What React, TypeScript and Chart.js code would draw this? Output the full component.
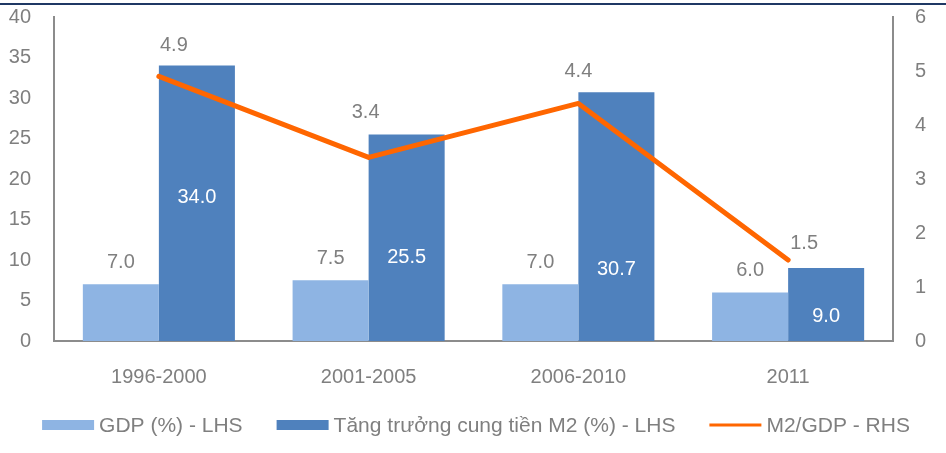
import React, { useEffect, useRef } from "react";
import { Chart, registerables } from "chart.js";

Chart.register(...registerables);

// ---- data ----
const categories = ["1996-2000", "2001-2005", "2006-2010", "2011"];
const gdp = [7.0, 7.5, 7.0, 6.0];
const m2Growth = [34.0, 25.5, 30.7, 9.0];
const m2ToGdp = [4.9, 3.4, 4.4, 1.5];
const seriesNames = [
  "GDP (%) - LHS",
  "Tăng trưởng cung tiền M2 (%) - LHS",
  "M2/GDP - RHS",
];
const leftAxis = { min: 0, max: 40, step: 5 };
const rightAxis = { min: 0, max: 6, step: 1 };

// ---- styles ----
const FONT = "'Liberation Sans', Arial, Helvetica, sans-serif";
const GRAY = "#7F7F7F";
const AXIS = "#8C8C8C";
const LIGHT_BLUE = "#8EB4E3";
const DARK_BLUE = "#4F81BD";
const ORANGE = "#FF6600";

// label placement (layout)
const M2_LABEL_AT = [17.8, 10.4, 8.9, 3.1]; // in left-axis units
const LINE_LABEL_OFFSETS = [
  [15, -31],
  [-3, -45],
  [0, -32],
  [16, -17],
];

const labelPlugin = {
  id: "valueLabels",
  afterDatasetsDraw(chart: any) {
    const ctx = chart.ctx;
    ctx.save();
    ctx.font = `20px ${FONT}`;
    ctx.textAlign = "center";
    ctx.textBaseline = "middle";
    const yL = chart.scales.y;
    chart.getDatasetMeta(0).data.forEach((el: any, i: number) => {
      ctx.fillStyle = GRAY;
      ctx.fillText(gdp[i].toFixed(1), el.x, el.y - 22);
    });
    chart.getDatasetMeta(1).data.forEach((el: any, i: number) => {
      ctx.fillStyle = "#FFFFFF";
      ctx.fillText(m2Growth[i].toFixed(1), el.x, yL.getPixelForValue(M2_LABEL_AT[i]) + 1);
    });
    chart.getDatasetMeta(2).data.forEach((el: any, i: number) => {
      ctx.fillStyle = GRAY;
      ctx.fillText(
        m2ToGdp[i].toFixed(1),
        el.x + LINE_LABEL_OFFSETS[i][0],
        el.y + LINE_LABEL_OFFSETS[i][1]
      );
    });
    ctx.restore();
  },
};

const topLinePlugin = {
  id: "topLine",
  beforeDraw(chart: any) {
    const ctx = chart.ctx;
    ctx.save();
    ctx.fillStyle = "#1F3864";
    ctx.fillRect(0, 3, chart.width, 2);
    ctx.restore();
  },
};

const legendPlugin = {
  id: "customLegend",
  afterDraw(chart: any) {
    const ctx = chart.ctx;
    ctx.save();
    ctx.font = `21px ${FONT}`;
    ctx.textBaseline = "middle";
    ctx.textAlign = "left";
    const boxW = 52;
    const gapText = 5;
    const gapItem = 34;
    const widths = seriesNames.map((t) => ctx.measureText(t).width);
    const total =
      widths.reduce((a, b) => a + b, 0) +
      seriesNames.length * (boxW + gapText) +
      (seriesNames.length - 1) * gapItem;
    let x = chart.width / 2 + 3 - total / 2;
    const cy = 425;
    const colors = [LIGHT_BLUE, DARK_BLUE, ORANGE];
    seriesNames.forEach((t, i) => {
      if (i < 2) {
        ctx.fillStyle = colors[i];
        ctx.fillRect(x, cy - 5, boxW, 10);
      } else {
        ctx.strokeStyle = ORANGE;
        ctx.lineWidth = 3;
        ctx.beginPath();
        ctx.moveTo(x, cy);
        ctx.lineTo(x + boxW, cy);
        ctx.stroke();
      }
      ctx.fillStyle = GRAY;
      ctx.fillText(t, x + boxW + gapText, cy + 1);
      x += boxW + gapText + widths[i] + gapItem;
    });
    ctx.restore();
  },
};

export default function App() {
  const canvasRef = useRef<HTMLCanvasElement | null>(null);

  useEffect(() => {
    if (!canvasRef.current) return;
    const tickFont = { size: 20, family: FONT };
    const fixY = (w: number) => (s: any) => {
      s.width = w;
      s.paddingTop = 0;
      s.paddingBottom = 0;
    };
    const chart = new Chart(canvasRef.current, {
      type: "bar",
      data: {
        labels: categories,
        datasets: [
          {
            type: "bar",
            label: seriesNames[0],
            data: gdp,
            backgroundColor: LIGHT_BLUE,
            yAxisID: "y",
            categoryPercentage: 0.725,
            barPercentage: 1,
            order: 1,
          },
          {
            type: "bar",
            label: seriesNames[1],
            data: m2Growth,
            backgroundColor: DARK_BLUE,
            yAxisID: "y",
            categoryPercentage: 0.725,
            barPercentage: 1,
            order: 2,
          },
          {
            type: "line",
            label: seriesNames[2],
            data: m2ToGdp,
            borderColor: ORANGE,
            backgroundColor: ORANGE,
            borderWidth: 5,
            pointRadius: 0,
            tension: 0,
            borderCapStyle: "round",
            borderJoinStyle: "round",
            yAxisID: "y1",
            order: 0,
          },
        ],
      } as any,
      options: {
        animation: false,
        responsive: true,
        maintainAspectRatio: false,
        layout: { padding: { top: 17, bottom: 52, left: 0, right: 0 } },
        plugins: {
          tooltip: { enabled: false },
          legend: { display: false },
        },
        scales: {
          x: {
            grid: { display: false, drawTicks: false },
            border: { display: true, color: AXIS, width: 2 },
            ticks: { color: GRAY, font: tickFont, padding: 24, maxRotation: 0 },
            afterFit: (s: any) => {
              s.height = 60;
              s.paddingLeft = 0;
              s.paddingRight = 0;
            },
          },
          y: {
            position: "left",
            min: leftAxis.min,
            max: leftAxis.max,
            ticks: { stepSize: leftAxis.step, color: GRAY, font: tickFont, padding: 23 },
            grid: { display: false, drawTicks: false },
            border: { display: true, color: AXIS, width: 2 },
            afterFit: fixY(54),
          },
          y1: {
            position: "right",
            min: rightAxis.min,
            max: rightAxis.max,
            ticks: { stepSize: rightAxis.step, color: GRAY, font: tickFont, padding: 22 },
            grid: { display: false, drawTicks: false },
            border: { display: true, color: AXIS, width: 2 },
            afterFit: fixY(53),
          },
        },
      } as any,
      plugins: [labelPlugin, topLinePlugin, legendPlugin],
    });
    return () => chart.destroy();
  }, []);

  return (
    <div style={{ position: "fixed", left: 0, top: 0, width: 946, height: 453, background: "#fff" }}>
      <canvas ref={canvasRef} />
    </div>
  );
}
